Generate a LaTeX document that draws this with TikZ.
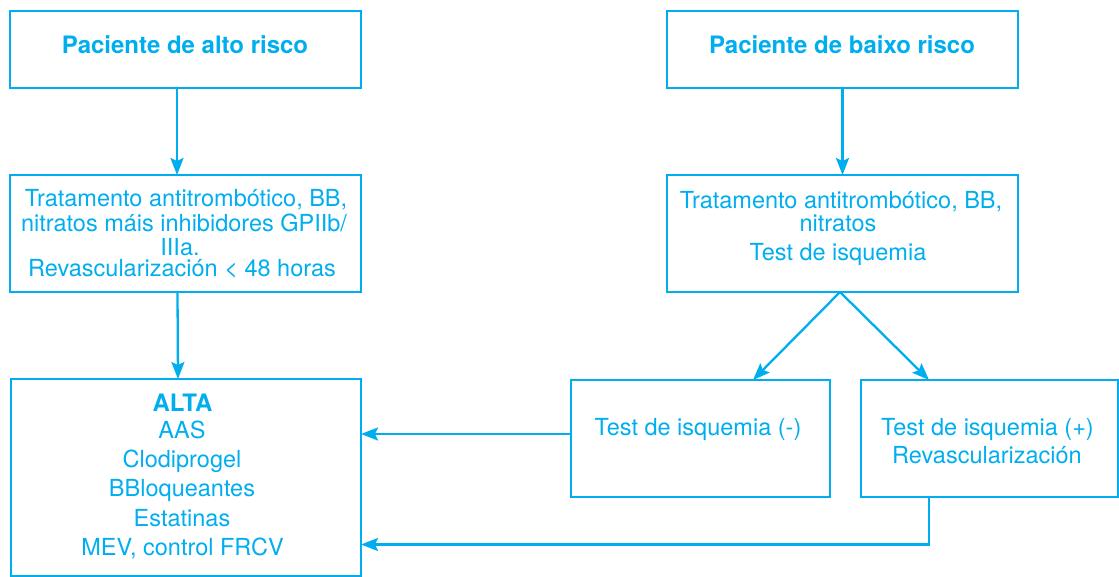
\documentclass[tikz,border=0pt]{standalone}
\usepackage{fontspec}
\setmainfont{TeX Gyre Heros}
\usetikzlibrary{arrows.meta,calc}
\definecolor{cy}{RGB}{0,174,239}
\begin{document}
\begin{tikzpicture}[x=1pt,y=-1pt,
  box/.style={draw=cy,line width=2.3pt,anchor=north west,inner sep=0pt,outer sep=0pt},
  txt/.style={anchor=base,text=cy,inner sep=0pt,font=\fontsize{23.5}{24}\selectfont},
  ttl/.style={anchor=base,text=cy,inner sep=0pt,font=\fontsize{24}{24}\selectfont\bfseries},
  arr/.style={draw=cy,line width=2.3pt,-{Stealth[length=17pt,width=13pt,inset=3pt]}},
  ln/.style={draw=cy,line width=2.3pt}]
\useasboundingbox (0,0) rectangle (1119,576);
% boxes
\node[box,minimum width=351pt,minimum height=77pt] (A) at (10,11) {};
\node[box,minimum width=351pt,minimum height=117pt] (B) at (10,175) {};
\node[box,minimum width=350pt,minimum height=197pt] (L) at (11,379) {};
\node[box,minimum width=351pt,minimum height=77pt] (C) at (667,11) {};
\node[box,minimum width=351pt,minimum height=117pt] (D) at (667,175) {};
\node[box,minimum width=259pt,minimum height=117pt] (E) at (571,380) {};
\node[box,minimum width=257pt,minimum height=117pt] (F) at (861,380) {};
% texts
\node[ttl] (At) at (185,53.3) {Paciente de alto risco};
\node[ttl] (Ct) at (842,53) {Paciente de baixo risco};
\node[txt] (B1) at (186,206.7) {Tratamento antitrombótico, BB,};
\node[txt] (B2) at (184,231) {nitratos máis inhibidores GPIIb/};
\node[txt] (B3) at (180,255) {IIIa.};
\node[txt] (B4) at (182,276.7) {Revascularización < 48 horas};
\node[txt] (D1) at (841,208) {Tratamento antitrombótico, BB,};
\node[txt] (D2) at (838,231) {nitratos};
\node[txt] (D3) at (838,260) {Test de isquemia};
\node[txt] (E1) at (698,435) {Test de isquemia (-)};
\node[txt] (F1) at (987.5,435) {Test de isquemia (+)};
\node[txt] (F2) at (987,463.3) {Revascularización};
\node[ttl] (L0) at (182.5,411.7) {ALTA};
\node[txt] (L1) at (182,438.3) {AAS};
\node[txt] (L2) at (182,467.3) {Clodiprogel};
\node[txt] (L3) at (182,496.7) {BBloqueantes};
\node[txt] (L4) at (182,526) {Estatinas};
\node[txt] (L5) at (182.5,555) {MEV, control FRCV};
% connectors
\draw[arr] ($(A.south)+(-8.5,0)$) -- ($(B.north)+(-8.5,0)$);
\draw[arr] ($(B.south)+(-8,0)$) -- ($(L.north)+(-8,0)$);
\draw[arr] (C.south) -- (D.north);
\draw[arr] ($(D.south)+(-2.5,0)$) -- ($(E.north)+(52.5,0)$);
\draw[arr] ($(D.south)+(-2.5,0)$) -- ($(F.north)+(-60.5,0)$);
\draw[arr] ($(E.west)+(0,-4.5)$) coordinate (e1) -- (L.east |- e1);
\draw[arr] ($(F.south)+(-60.5,0)$) |- ($(L.east)+(0,67)$);
\end{tikzpicture}
\end{document}
